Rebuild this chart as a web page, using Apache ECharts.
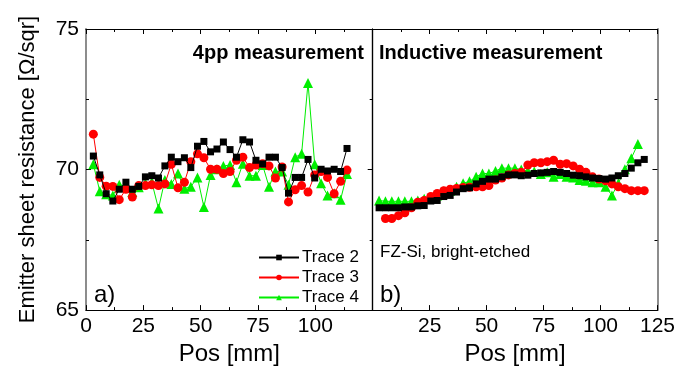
<!DOCTYPE html>
<html>
<head>
<meta charset="utf-8">
<script src="https://cdn.jsdelivr.net/npm/echarts@6/dist/echarts.min.js"></script>
<style>
html,body{margin:0;padding:0;background:#fff;}
#c{width:678px;height:371px;}
</style>
</head>
<body>
<div id="c"></div>
<script>
// ---------- data ----------
var seriesNames = ['Trace 2', 'Trace 3', 'Trace 4'];
var xTicksLeft = [0, 25, 50, 75, 100];
var xTicksRight = [25, 50, 75, 100, 125];
var yTicks = [65, 70, 75];

// left panel (4pp measurement) positions [mm]
var posLeft = [3.2, 6.0, 8.8, 11.7, 14.5, 17.4, 20.2, 23.0, 25.9, 28.7, 31.6, 34.4, 37.2, 40.1, 42.9, 45.7,
  48.6, 51.4, 54.3, 57.1, 59.9, 62.8, 65.6, 68.4, 71.3, 74.1, 77.0, 79.8, 82.6, 85.5, 88.3, 91.2,
  94.0, 96.8, 99.7, 102.5, 105.3, 108.2, 111.0, 113.8];
var left2 = [70.48, 69.81, 69.14, 68.88, 69.3, 69.55, 69.3, 69.4, 69.74, 69.78, 69.7, 70.13, 70.44, 70.28, 70.42, 70.07,
  70.83, 71.0, 70.63, 70.73, 70.98, 70.71, 70.44, 71.06, 70.98, 70.33, 70.2, 70.44, 70.44, 70.07, 69.16, 69.72,
  69.72, 70.36, 69.7, 70.01, 69.95, 70.01, 69.93, 70.75];
var left3 = [71.26, 69.72, 69.41, 69.4, 68.93, 69.3, 69.02, 69.43, 69.43, 69.46, 69.43, 69.49, 70.19, 69.35, 69.55, 70.28,
  70.56, 70.42, 70.01, 70.01, 69.86, 69.93, 70.33, 70.44, 70.07, 70.16, 70.21, 70.13, 69.7, 70.09, 68.85, 69.28,
  69.43, 69.2, 69.81, 69.93, 69.72, 69.14, 69.58, 69.98];
var left4 = [70.19, 69.23, 69.12, 69.08, 69.46, 69.39, 69.2, 69.37, 69.51, 69.55, 68.61, 69.63, 69.49, 69.86, 69.32, 69.39,
  69.72, 68.67, 69.81, 70.01, 70.13, 70.16, 69.55, 70.21, 69.78, 69.78, 70.16, 69.39, 69.93, 69.93, 69.46, 70.44,
  70.56, 73.08, 70.19, 69.51, 69.08, 69.16, 68.93, 69.84];

// right panel (inductive measurement) positions [mm]
var posRight = [2.8, 5.6, 8.4, 11.3, 14.1, 17.0, 19.8, 22.6, 25.5, 28.3, 31.2, 34.0, 36.8, 39.7, 42.5, 45.4,
  48.2, 51.0, 53.9, 56.7, 59.6, 62.4, 65.2, 68.1, 70.9, 73.8, 76.6, 79.4, 82.3, 85.1, 88.0, 90.8,
  93.6, 96.5, 99.3, 102.2, 105.0, 107.8, 110.7, 113.5, 116.4, 119.2];
var right2 = [68.64, 68.64, 68.64, 68.64, 68.67, 68.67, 68.71, 68.72, 68.88, 68.9, 69.04, 69.08, 69.2, 69.32, 69.35, 69.49,
  69.58, 69.66, 69.66, 69.74, 69.81, 69.81, 69.78, 69.8, 69.86, 69.88, 69.9, 69.93, 69.9, 69.86, 69.8, 69.78,
  69.74, 69.7, 69.68, 69.66, 69.7, 69.78, 69.86, 70.05, 70.24, 70.36];
var right3 = [null, 68.26, 68.26, 68.36, 68.46, 68.64, 68.84, 68.9, 69.04, 69.15, 69.25, 69.3, 69.33, 69.36, 69.37, 69.39,
  69.39, 69.43, 69.63, 69.7, 69.81, 69.86, 69.9, 70.16, 70.24, 70.24, 70.28, 70.33, 70.19, 70.21, 70.13, 70.01,
  69.9, 69.74, 69.66, 69.6, 69.49, 69.39, 69.32, 69.25, 69.25, 69.25];
var right4 = [68.9, 68.87, 68.87, 68.87, 68.87, 68.87, 68.9, 68.96, 69.0, 69.08, 69.23, 69.25, 69.39, 69.51, 69.58, 69.74,
  69.86, 69.86, 69.95, 70.05, 70.05, 70.05, 70.0, 69.95, 69.93, 69.84, 69.9, 69.74, 69.84, 69.74, 69.72, 69.63,
  69.6, 69.55, 69.55, 69.39, 69.08, 69.51, 70.01, 70.4, 70.91];

// ---------- chart ----------
function pairs(xs, ys) {
  var out = [];
  for (var i = 0; i < ys.length; i++) if (ys[i] !== null && ys[i] !== undefined) out.push([xs[i], ys[i]]);
  return out;
}
var FONT = 'Liberation Sans, Arial, sans-serif';
var colors = ['#000000', '#ff0000', '#00ee00'];
var symbols = ['rect', 'circle', 'triangle'];
var sizes = [7, 9, 10];

var G = [{left: 86, top: 29, width: 286.7, height: 286}, {left: 372.7, top: 29, width: 286, height: 286}];

function xAx(grid, pos, showLabels, ticks, name) {
  return {
    type: 'value', gridIndex: grid, position: pos, min: 0, max: 125, interval: 25,
    axisLine: {show: true, lineStyle: {color: '#000', width: 1.2}},
    axisTick: {show: true, inside: true, length: 5, lineStyle: {color: '#000'}},
    minorTick: {show: true, splitNumber: 2, length: 3, lineStyle: {color: '#000'}},
    splitLine: {show: false},
    axisLabel: {show: showLabels, fontSize: 21, color: '#000', fontFamily: FONT, margin: 6,
      formatter: function (v) { return ticks.indexOf(v) >= 0 ? String(v) : ''; }},
    name: name || '', nameLocation: 'middle', nameGap: 26,
    nameTextStyle: {fontSize: 24, color: '#000', fontFamily: FONT}
  };
}
function yAx(grid, pos, showLabels, showTicks, color, name) {
  return {
    type: 'value', gridIndex: grid, position: pos, min: 65, max: 75, interval: 5,
    axisLine: {show: true, onZero: false, lineStyle: {color: color, width: color === '#000' ? 1.2 : 1.8}},
    axisTick: {show: showTicks, inside: true, length: 5, lineStyle: {color: '#000'}},
    minorTick: {show: showTicks, splitNumber: 2, length: 3, lineStyle: {color: '#000'}},
    splitLine: {show: false},
    axisLabel: {show: showLabels, fontSize: 21, color: '#000', fontFamily: FONT, margin: 7,
      formatter: function (v) { return yTicks.indexOf(v) >= 0 ? String(v) : ''; }},
    name: name || '', nameLocation: 'middle', nameGap: 47,
    nameTextStyle: {fontSize: 22, color: '#000', fontFamily: FONT}
  };
}

var series = [];
var leftData = [left2, left3, left4];
var rightData = [right2, right3, right4];
for (var k = 0; k < 3; k++) {
  series.push({
    name: seriesNames[k], type: 'line', xAxisIndex: 0, yAxisIndex: 0,
    data: pairs(posLeft, leftData[k]), symbol: symbols[k], symbolSize: sizes[k],
    showAllSymbol: true, animation: false,
    lineStyle: {color: colors[k], width: 1}, itemStyle: {color: colors[k]}, z: 3 - k
  });
  series.push({
    name: seriesNames[k], type: 'line', xAxisIndex: 2, yAxisIndex: 2,
    data: pairs(posRight, rightData[k]), symbol: symbols[k], symbolSize: sizes[k],
    showAllSymbol: true, animation: false,
    lineStyle: {color: colors[k], width: 1}, itemStyle: {color: colors[k]}, z: 3 - k
  });
}

var chart = echarts.init(document.getElementById('c'), null, {renderer: 'canvas'});
chart.setOption({
  backgroundColor: '#fff',
  animation: false,
  grid: G,
  xAxis: [
    xAx(0, 'bottom', true, xTicksLeft, 'Pos [mm]'),
    xAx(0, 'top', false, xTicksLeft),
    xAx(1, 'bottom', true, xTicksRight, 'Pos [mm]'),
    xAx(1, 'top', false, xTicksRight)
  ],
  yAxis: [
    yAx(0, 'left', true, true, '#808080', 'Emitter sheet resistance [\u03A9/sqr]'),
    yAx(0, 'right', false, true, '#000'),
    yAx(1, 'left', false, false, '#000'),
    yAx(1, 'right', false, true, '#808080')
  ],
  legend: {
    data: seriesNames, orient: 'vertical', left: 253, top: 244,
    itemWidth: 40, itemHeight: 7, itemGap: 3,
    textStyle: {fontSize: 17, color: '#000', fontFamily: FONT, padding: [0, 0, 0, -2]},
    selectedMode: false
  },
  graphic: [
    {type: 'text', right: 678 - 364, top: 43, style: {text: '4pp measurement', font: 'bold 20px ' + FONT, fill: '#000'}},
    {type: 'text', left: 379, top: 43, style: {text: 'Inductive measurement', font: 'bold 20px ' + FONT, fill: '#000'}},
    {type: 'text', left: 380, top: 244, style: {text: 'FZ-Si, bright-etched', font: '17px ' + FONT, fill: '#000'}},
    {type: 'text', left: 94, top: 283, style: {text: 'a)', font: '24px ' + FONT, fill: '#000'}},
    {type: 'text', left: 380, top: 283, style: {text: 'b)', font: '24px ' + FONT, fill: '#000'}}
  ],
  series: series
});
</script>
</body>
</html>
